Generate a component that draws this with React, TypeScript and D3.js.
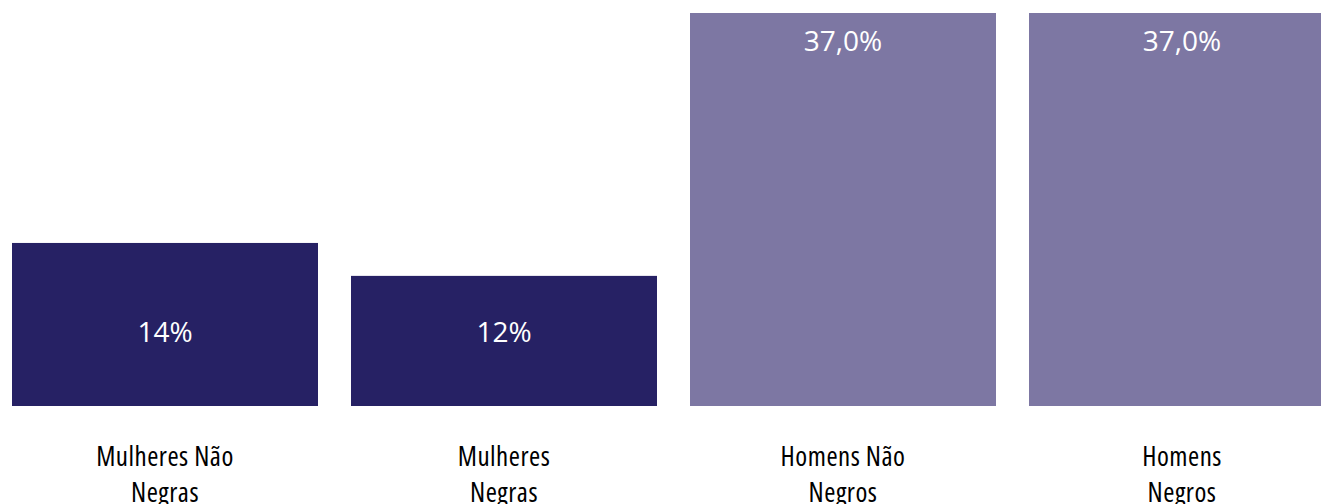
import React from 'react';
import * as d3 from 'd3';

// categories split in two lines, as in the source
const categories = ['Mulheres Não Negras', 'Mulheres Negras', 'Homens Não Negros', 'Homens Negros'];
const categoryLines = [
  ['Mulheres Não', 'Negras'],
  ['Mulheres', 'Negras'],
  ['Homens Não', 'Negros'],
  ['Homens', 'Negros'],
];
// bar heights as drawn (the printed labels don't quite match the drawn heights)
const values = [15.35, 12.25, 37, 37];
const valueLabels = ['14%', '12%', '37,0%', '37,0%'];
const groups = ['mulheres', 'mulheres', 'homens', 'homens'];

const W = 1321;
const H = 504;

const App = () => {
  const gap = 33 / 339;
  const x = d3.scaleBand<string>().domain(categories).range([12, 1335]).paddingInner(gap).paddingOuter(0);
  const y = d3.scaleLinear().domain([0, 37]).range([406, 13]);
  const color = d3.scaleOrdinal<string, string>().domain(['mulheres', 'homens']).range(['#262164', '#7d77a3']);

  return (
    <svg
      width={W}
      height={H}
      style={{position: 'absolute', left: 0, top: 0, background: '#fff'}}
    >
      {categories.map((c, i) => {
        const bx = x(c) as number;
        const bw = x.bandwidth();
        const cx = bx + bw / 2;
        const tall = values[i] > 30;
        // label sits near the top for tall bars, at a fixed spot near the base otherwise
        const ly = tall ? y(values[i]) + 38 : y(0) - 64;
        return (
          <g key={c}>
            <rect x={bx} y={y(values[i])} width={bw} height={y(0) - y(values[i])} fill={color(groups[i])} />
            <text
              x={cx}
              y={ly}
              textAnchor="middle"
              fill="#fff"
              fontFamily="'Open Sans', sans-serif"
              fontSize={28}
            >
              {valueLabels[i]}
            </text>
            <text
              x={cx}
              textAnchor="middle"
              fill="#000"
              fontFamily="'Open Sans', sans-serif"
              fontSize={27}
              letterSpacing={0.5}
              style={{fontStretch: '75%'}}
            >
              {categoryLines[i].map((line, j) => (
                <tspan key={j} x={cx} y={466 + j * 36}>
                  {line}
                </tspan>
              ))}
            </text>
          </g>
        );
      })}
    </svg>
  );
};

export default App;
